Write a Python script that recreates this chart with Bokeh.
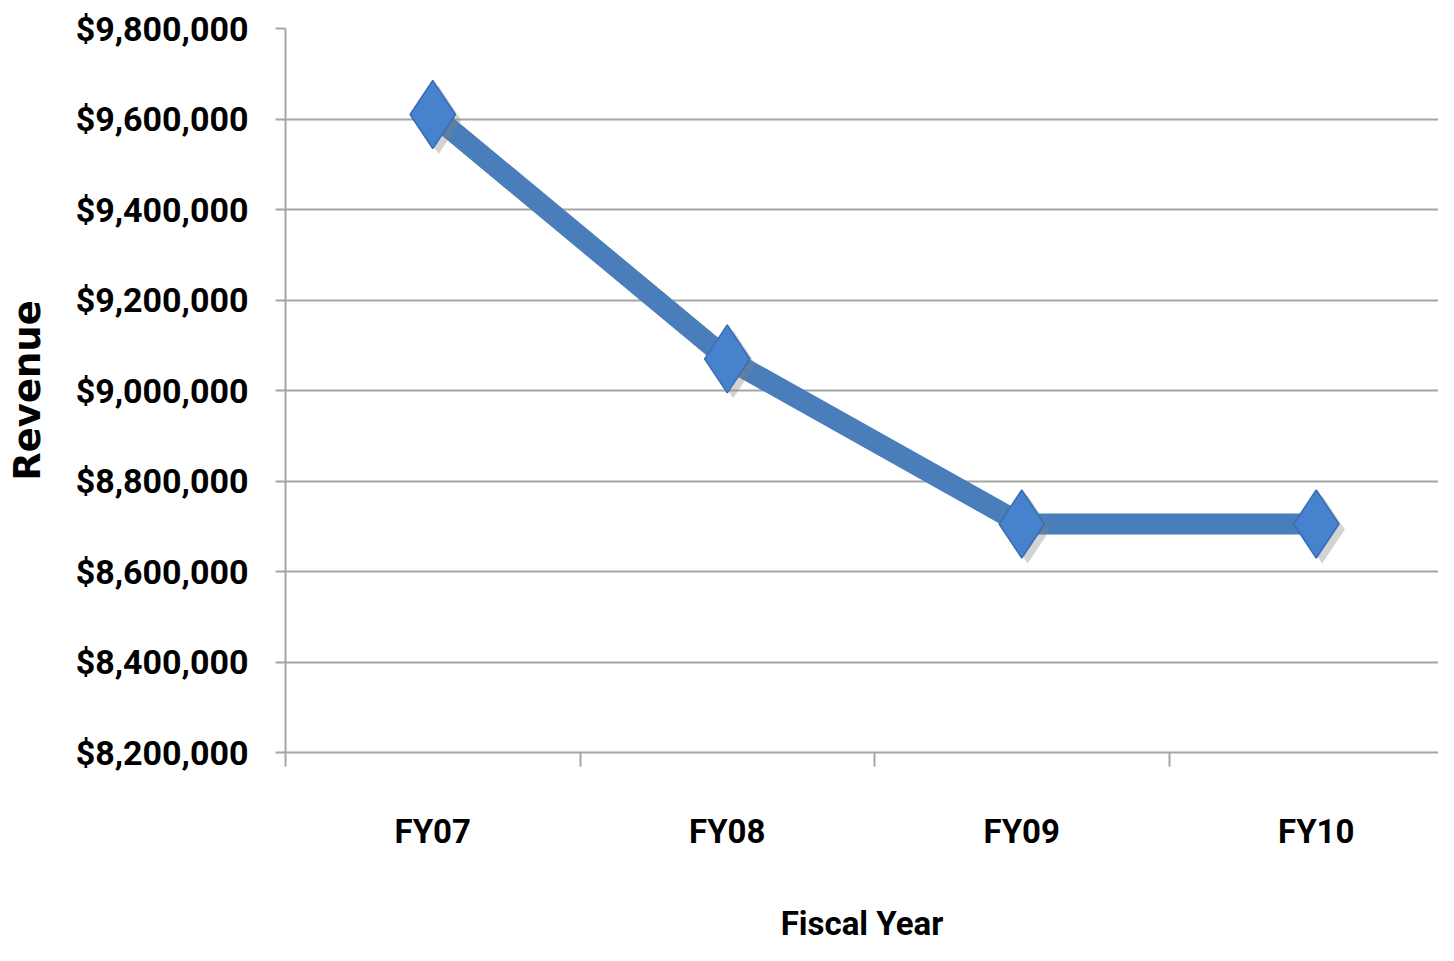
from bokeh.plotting import figure
from bokeh.models import Range1d, FixedTicker, NumeralTickFormatter, ColumnDataSource
from bokeh.transform import dodge
from bokeh.embed import file_html
from bokeh.resources import INLINE

# data
categories = ["FY07", "FY08", "FY09", "FY10"]
revenue = [9610000, 9070000, 8705000, 8705000]
y_ticks = [8200000, 8400000, 8600000, 8800000, 9000000, 9200000, 9400000, 9600000, 9800000]

xpos = list(range(len(categories)))
src = ColumnDataSource(dict(x=xpos, y=revenue))

p = figure(width=1438, height=945, output_backend="svg", toolbar_location=None,
           x_range=Range1d(-0.5, 3.415), y_range=Range1d(8200000, 9800000),
           min_border_left=285, min_border_right=0, min_border_top=28, min_border_bottom=188)
p.outline_line_color = None
p.background_fill_color = "white"

GRID = "#a6a6a6"
FONT = "Roboto"
# y axis
p.yaxis.ticker = FixedTicker(ticks=y_ticks)
p.yaxis.formatter = NumeralTickFormatter(format="$0,0")
p.yaxis.major_label_text_font = FONT
p.yaxis.major_label_text_font_style = "bold"
p.yaxis.major_label_text_font_size = "34px"
p.yaxis.major_label_text_color = "black"
p.yaxis.major_label_standoff = 27
p.yaxis.major_tick_out = 10
p.yaxis.major_tick_in = 0
p.yaxis.minor_tick_line_color = None
p.yaxis.axis_line_color = GRID
p.yaxis.axis_line_width = 2
p.yaxis.major_tick_line_color = GRID
p.yaxis.major_tick_line_width = 2
p.yaxis.axis_label = "Revenue"
p.yaxis.axis_label_text_font = "DejaVu Sans"
p.yaxis.axis_label_text_font_style = "bold"
p.yaxis.axis_label_text_font_size = "37px"
p.yaxis.axis_label_text_color = "black"
p.yaxis.axis_label_standoff = 24

# x axis
p.xaxis.ticker = FixedTicker(ticks=xpos, minor_ticks=[i - 0.5 for i in xpos])
p.xaxis.major_label_overrides = {i: c for i, c in zip(xpos, categories)}
p.xaxis.major_label_text_font = FONT
p.xaxis.major_label_text_font_style = "bold"
p.xaxis.major_label_text_font_size = "33px"
p.xaxis.major_label_text_color = "black"
p.xaxis.major_label_standoff = 45
p.xaxis.major_tick_out = 0
p.xaxis.major_tick_in = 0
p.xaxis.major_tick_line_color = None
p.xaxis.minor_tick_out = 14
p.xaxis.minor_tick_in = 0
p.xaxis.minor_tick_line_color = GRID
p.xaxis.minor_tick_line_width = 2
p.xaxis.axis_line_color = GRID
p.xaxis.axis_line_width = 2
p.xaxis.axis_label = "Fiscal Year"
p.xaxis.axis_label_text_font = FONT
p.xaxis.axis_label_text_font_style = "bold"
p.xaxis.axis_label_text_font_size = "33px"
p.xaxis.axis_label_text_color = "black"
p.xaxis.axis_label_standoff = 50

p.xgrid.grid_line_color = None
p.ygrid.grid_line_color = GRID
p.ygrid.grid_line_width = 2

# series
p.line("x", "y", source=src, line_color="#4a7ebb", line_width=21)
p.scatter(x=dodge("x", 0.02, range=p.x_range), y=dodge("y", -12000, range=p.y_range),
          source=src, marker="diamond", size=68, fill_color="#808080", fill_alpha=0.35,
          line_color=None)
p.scatter("x", "y", source=src, marker="diamond", size=68, fill_color="#4682ce",
          line_color="#3a6db0", line_width=1.5)

open("out.html", "w").write(file_html(p, INLINE))
